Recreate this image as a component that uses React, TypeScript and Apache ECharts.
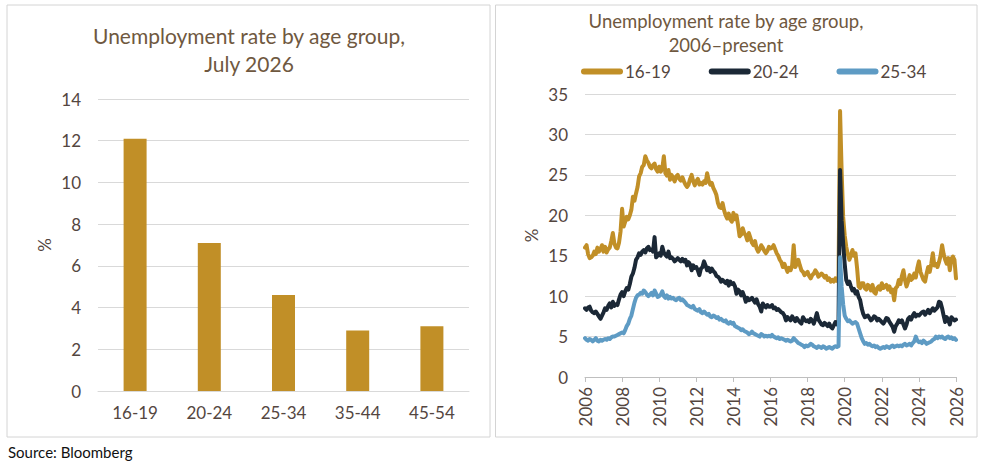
import React, { useEffect, useRef } from "react";
import * as echarts from "echarts";

// ---------- Data ----------
const ageGroups = ["16-19", "20-24", "25-34", "35-44", "45-54"];
const latestRates = [12.1, 7.1, 4.6, 2.9, 3.1];

const seriesNames = ["16-19", "20-24", "25-34"];
const startYear = 2006; // monthly observations, Jan 2006 .. Jan 2026
const xTickYears = { min: 2006, max: 2026, step: 2 };

// 16-19, monthly
const rate1619 = [
  16.0, 16.3, 15.2, 14.7, 14.8, 15.0, 15.5, 15.2, 16.0, 15.5, 15.8, 16.3,
  15.5, 16.1, 15.4, 15.8, 16.0, 16.8, 17.8, 16.5, 16.0, 15.9, 16.6, 18.0,
  20.8, 18.6, 19.2, 19.8, 19.5, 20.0, 20.7, 22.3, 21.8, 22.7, 23.5, 24.8,
  25.2, 26.0, 26.2, 27.3, 26.8, 26.5, 26.0, 25.8, 26.2, 26.4, 25.7, 25.4,
  26.0, 25.4, 25.8, 27.3, 25.2, 24.9, 25.6, 24.4, 25.0, 24.6, 24.2, 24.8,
  25.0, 24.5, 24.3, 24.7, 24.2, 23.8, 23.5, 23.8, 24.5, 25.0, 24.2, 23.7,
  24.2, 24.5, 23.8, 24.0, 23.8, 24.2, 24.0, 25.2, 24.3, 23.8, 24.0, 23.4,
  23.0, 22.5, 21.5, 21.0, 20.9, 21.5, 20.6, 20.0, 19.6, 20.2, 19.5, 19.2,
  20.3, 19.5, 20.0, 18.8, 17.4, 17.6, 18.4, 17.8, 17.5, 16.9, 17.8, 17.2,
  16.6, 16.3, 16.8, 15.9, 15.5, 15.8, 16.3, 16.0, 15.6, 15.3, 15.6, 16.1,
  15.9, 16.0, 16.3, 15.8, 15.3, 15.0, 14.5, 14.2, 13.6, 14.0, 13.5, 13.0,
  13.5, 13.2, 13.8, 16.3, 13.6, 14.0, 14.5, 13.8, 13.2, 13.0, 12.6, 12.8,
  13.0, 12.5, 12.2, 12.6, 12.8, 13.2, 12.9, 12.4, 12.6, 12.8, 12.6, 12.3,
  12.5, 12.0, 12.2, 11.8, 12.0, 11.8, 12.2, 11.9, 12.3, 32.9, 25.5, 19.8,
  17.5, 16.1, 15.2, 14.5, 15.0, 15.7, 15.0, 15.3, 13.5, 11.2, 11.0, 11.6,
  11.6, 11.0, 10.8, 11.4, 11.2, 10.7, 11.4, 10.5, 10.3, 11.0, 11.2, 10.8,
  11.6, 11.0, 11.2, 11.4, 10.8, 11.2, 10.5, 10.8, 9.5, 11.0, 11.2, 12.0,
  11.5, 12.5, 13.2, 12.0, 11.2, 11.8, 12.6, 12.0, 12.2, 12.8, 12.3, 13.5,
  14.3, 13.0, 12.5, 12.0, 11.8, 12.8, 13.6, 13.0, 14.0, 15.3, 13.8, 14.0,
  13.6, 14.2, 15.0, 16.3, 15.2, 14.5, 14.0, 14.7, 13.2, 14.6, 14.9, 14.5,
  12.2,
];

// 20-24, monthly
const rate2024 = [
  8.5, 8.3, 8.6, 8.7, 8.2, 8.0, 7.9, 8.1, 7.8, 7.5, 7.2, 7.6,
  8.0, 8.5, 8.3, 8.8, 9.1, 8.6, 9.3, 8.8, 9.0, 8.9, 9.6, 10.2,
  10.5, 10.0, 10.6, 11.0, 10.8, 11.5, 12.4, 12.8, 13.5, 14.5, 14.8, 15.3,
  15.1, 15.5, 15.7, 15.4, 15.9, 16.1, 15.7, 15.8, 15.5, 17.3, 14.8, 15.0,
  15.3, 15.0, 16.1, 15.4, 15.1, 14.9, 15.5, 14.7, 14.8, 14.6, 14.3, 14.5,
  14.7, 14.5, 14.3, 14.6, 14.3, 14.5, 13.8, 14.2, 13.9, 13.2, 13.8, 13.5,
  13.6, 13.2, 12.6, 13.4, 13.6, 14.3, 13.8, 13.2, 13.5, 13.0, 13.4, 13.1,
  12.9, 12.5, 12.4, 12.2, 11.8, 12.0, 11.8, 11.6, 11.9, 11.3, 11.8, 11.5,
  11.6, 11.2, 10.3, 10.8, 10.6, 10.1, 10.5, 10.0, 9.3, 9.8, 9.5, 9.6,
  9.8, 9.5, 9.2, 9.6, 9.0, 8.7, 8.1, 9.1, 8.8, 8.6, 8.9, 8.7,
  8.7, 8.9, 8.5, 8.6, 8.3, 8.4, 8.2, 8.0, 7.9, 7.6, 7.0, 7.4,
  7.2, 7.0, 7.5, 7.2, 6.9, 7.3, 7.0, 6.8, 6.6, 7.4, 7.1, 6.9,
  7.0, 6.8, 7.2, 7.0, 6.6, 7.2, 7.9, 7.1, 6.8, 6.5, 6.4, 6.7,
  6.5, 6.3, 6.6, 6.2, 6.0, 6.4, 6.8, 6.5, 6.9, 25.6, 19.4, 16.5,
  14.0, 12.0, 11.5, 11.8, 11.2, 10.7, 10.9, 10.3, 10.6, 9.9, 9.5, 8.5,
  7.8, 7.4, 7.5, 7.6, 7.3, 7.0, 7.2, 7.5, 7.4, 7.0, 7.2, 7.0,
  6.8, 6.6, 6.9, 7.3, 7.2, 6.8, 6.5, 6.2, 5.6, 6.3, 6.6, 7.0,
  6.8, 7.0, 6.5, 6.0, 6.5, 7.2, 7.4, 7.1, 7.6, 7.9, 7.5, 7.7,
  7.6, 7.8, 8.0, 8.1, 7.7, 8.0, 8.3, 7.9, 8.2, 8.5, 8.2, 8.4,
  8.6, 9.3, 9.2, 8.5, 7.6, 6.8, 7.4, 7.0, 6.5, 7.4, 7.2, 7.0,
  7.1,
];

// 25-34, monthly
const rate2534 = [
  4.8, 4.6, 4.5, 4.7, 4.6, 4.4, 4.6, 4.8, 4.5, 4.4, 4.6, 4.5,
  4.6, 4.7, 4.6, 4.8, 4.7, 4.9, 5.0, 5.0, 5.1, 5.2, 5.3, 5.4,
  5.5, 5.4, 5.8, 6.3, 6.6, 7.2, 7.6, 8.4, 9.2, 9.8, 10.1, 10.2,
  10.4, 10.3, 10.7, 10.5, 10.2, 10.0, 10.2, 10.4, 10.1, 10.7, 10.3, 9.9,
  10.0, 10.2, 10.6, 10.0, 9.8, 10.1, 9.7, 9.9, 9.7, 9.8, 9.6, 9.5,
  9.7, 9.8, 9.5, 9.6, 9.4, 9.2, 8.9, 8.8, 8.7, 8.6, 8.8, 8.4,
  8.3, 8.2, 8.4, 8.0, 7.9, 8.1, 7.9, 7.7, 7.8, 7.5, 7.4, 7.6,
  7.5, 7.3, 7.4, 7.1, 7.2, 7.0, 6.9, 7.0, 6.7, 6.6, 6.8, 6.6,
  6.7, 6.3, 6.2, 6.1, 6.0, 5.8, 5.9, 5.7, 5.6, 5.5, 5.3, 5.4,
  5.6, 5.4, 5.3, 5.2, 5.1, 5.0, 5.3, 5.2, 5.0, 5.1, 5.0, 5.1,
  5.0, 5.2, 5.0, 4.9, 4.8, 4.9, 4.7, 4.8, 4.7, 4.6, 4.5, 4.6,
  4.5, 4.4, 4.5, 4.8, 4.6, 4.4, 4.2, 4.1, 4.0, 3.9, 3.7, 3.9,
  3.8, 3.9, 4.1, 4.0, 3.8, 3.7, 3.6, 3.8, 3.7, 3.6, 3.8, 3.7,
  3.5, 3.6, 3.7, 3.6, 3.5, 3.7, 3.8, 3.7, 3.8, 14.8, 11.2, 9.0,
  7.6, 7.2, 6.9, 7.0, 6.8, 6.6, 6.7, 6.8, 6.6, 6.0, 5.4, 4.8,
  4.4, 4.1, 4.2, 4.0, 4.1, 3.9, 3.8, 3.9, 3.7, 3.8, 3.6, 3.5,
  3.6, 3.7, 3.6, 3.8, 3.7, 3.6, 3.8, 3.9, 3.7, 3.8, 3.9, 3.8,
  3.9, 3.8, 4.0, 4.1, 3.9, 4.0, 4.1, 3.9, 4.2, 4.4, 5.0, 4.5,
  4.3, 4.4, 4.2, 4.5, 4.3, 4.1, 4.2, 4.3, 4.4, 4.6, 4.7, 5.0,
  4.8, 5.0, 4.9, 5.0, 4.8, 4.7, 4.9, 5.0, 4.8, 4.9, 4.7, 4.8,
  4.6,
];

const lineSeriesValues = [rate1619, rate2024, rate2534];

// ---------- Styles ----------
const GOLD = "#c18f27";
const NAVY = "#1b2836";
const BLUE = "#5e9bc4";
const lineColors = [GOLD, NAVY, BLUE];
const TITLE_COLOR = "#6f5840";
const LABEL_COLOR = "#54463f";
const GRID_COLOR = "#d9d9d9";
const FONT = "Lato, 'Open Sans', sans-serif";
const LABEL_SIZE = 17;

const toPairs = (vals: number[]) =>
  vals.map((v, i) => [startYear + i / 12, v]);

export default function App() {
  const ref = useRef<HTMLDivElement>(null);

  useEffect(() => {
    if (!ref.current) return;
    const chart = echarts.init(ref.current, undefined, { renderer: "svg" });

    const capsule =
      "path://M3,0 L39,0 A3,3 0 0 1 39,6 L3,6 A3,3 0 0 1 3,0 Z";

    const labelStyle = { fontFamily: FONT, fontSize: LABEL_SIZE, color: LABEL_COLOR };

    const option: any = {
      animation: false,
      backgroundColor: "#ffffff",
      textStyle: { fontFamily: FONT },
      title: [
        {
          text: "Unemployment rate by age group,\nJuly 2026",
          left: 249,
          top: 21,
          padding: 0,
          textAlign: "center",
          textStyle: {
            fontFamily: FONT,
            fontWeight: "normal",
            fontSize: 21,
            lineHeight: 28,
            color: TITLE_COLOR,
          },
        },
        {
          text: "Unemployment rate by age group,\n2006\u2013present",
          left: 726,
          top: 9,
          padding: 0,
          textAlign: "center",
          textStyle: {
            fontFamily: FONT,
            fontWeight: "normal",
            fontSize: 18.5,
            lineHeight: 24,
            color: TITLE_COLOR,
          },
        },
      ],
      legend: {
        data: seriesNames.map((n) => ({ name: n, icon: capsule })),
        left: 581,
        top: 63,
        itemWidth: 42,
        itemHeight: 6,
        itemGap: 38,
        padding: 0,
        textStyle: { ...labelStyle, padding: [0, 0, 0, -3] },
      },
      grid: [
        { left: 98, right: 512, top: 99, bottom: 72 },
        { left: 585, right: 25, top: 94, bottom: 86 },
      ],
      xAxis: [
        {
          type: "category",
          gridIndex: 0,
          data: ageGroups,
          axisLine: { show: true, lineStyle: { color: GRID_COLOR } },
          axisTick: { show: false },
          axisLabel: { ...labelStyle, margin: 13 },
        },
        {
          type: "value",
          gridIndex: 1,
          min: xTickYears.min,
          max: xTickYears.max,
          interval: xTickYears.step,
          axisLine: { show: true, lineStyle: { color: "#bfbfbf" } },
          axisTick: { show: true, length: 5, lineStyle: { color: "#bfbfbf" } },
          splitLine: { show: false },
          axisLabel: {
            ...labelStyle,
            rotate: 90,
            margin: 10,
            formatter: (v: number) => String(v),
          },
        },
      ],
      yAxis: [
        {
          type: "value",
          gridIndex: 0,
          min: 0,
          max: 14,
          interval: 2,
          name: "%",
          nameLocation: "middle",
          nameRotate: 90,
          nameGap: 45,
          nameTextStyle: labelStyle,
          axisLine: { show: false },
          axisTick: { show: false },
          splitLine: { lineStyle: { color: GRID_COLOR } },
          axisLabel: { ...labelStyle, margin: 17 },
        },
        {
          type: "value",
          gridIndex: 1,
          min: 0,
          max: 35,
          interval: 5,
          name: "%",
          nameLocation: "middle",
          nameRotate: 90,
          nameGap: 45,
          nameTextStyle: labelStyle,
          axisLine: { show: false },
          axisTick: { show: false },
          splitLine: { lineStyle: { color: GRID_COLOR } },
          axisLabel: { ...labelStyle, margin: 17 },
        },
      ],
      series: [
        {
          type: "bar",
          name: "July 2026",
          xAxisIndex: 0,
          yAxisIndex: 0,
          data: latestRates,
          barWidth: 23,
          itemStyle: { color: GOLD },
        },
        ...seriesNames.map((name, k) => ({
          type: "line",
          name,
          xAxisIndex: 1,
          yAxisIndex: 1,
          data: toPairs(lineSeriesValues[k]),
          symbol: "none",
          showSymbol: false,
          clip: false,
          itemStyle: { color: lineColors[k] },
          lineStyle: { color: lineColors[k], width: 4, join: "round", cap: "round" },
        })),
      ],
      graphic: [
        {
          type: "rect",
          shape: { x: 7, y: 5, width: 483, height: 432 },
          style: { fill: "none", stroke: "#d4d4d4", lineWidth: 1 },
          silent: true,
        },
        {
          type: "rect",
          shape: { x: 495.5, y: 5, width: 481.5, height: 432 },
          style: { fill: "none", stroke: "#d4d4d4", lineWidth: 1 },
          silent: true,
        },
        {
          type: "text",
          x: 8,
          y: 452,
          style: {
            text: "Source: Bloomberg",
            font: "15px Lato, 'Open Sans', sans-serif",
            fill: "#111111",
            textVerticalAlign: "middle",
          },
        },
      ],
    };

    chart.setOption(option);
    return () => chart.dispose();
  }, []);

  return (
    <div
      ref={ref}
      style={{ position: "fixed", left: 0, top: 0, width: 981, height: 463 }}
    />
  );
}
